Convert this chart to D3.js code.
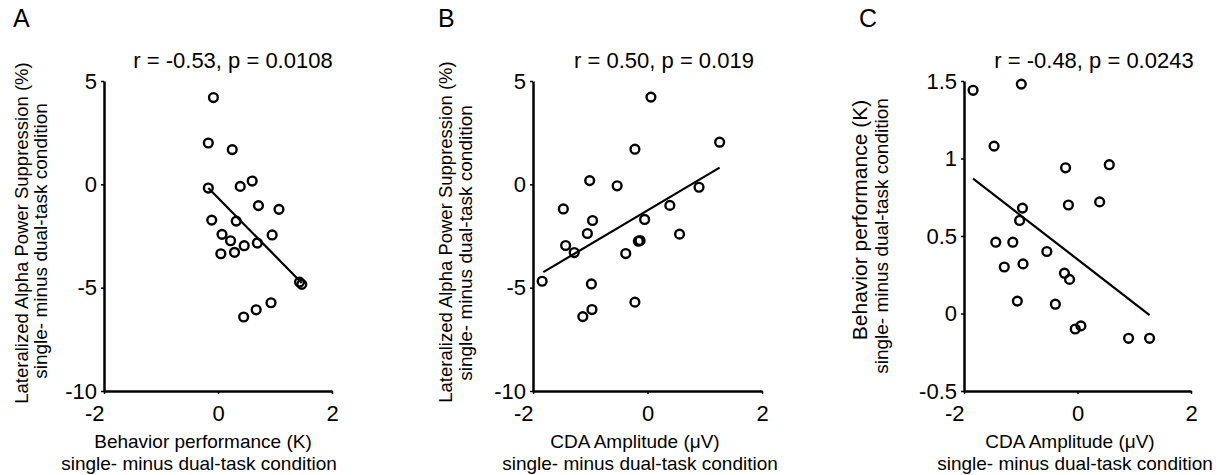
<!DOCTYPE html>
<html>
<head>
<meta charset="utf-8">
<script src="https://cdn.jsdelivr.net/npm/d3@7"></script>
<style>
  html, body { margin: 0; padding: 0; background: #fff; }
  svg text { font-family: "Liberation Sans", Arial, Helvetica, sans-serif; fill: #000; }
</style>
</head>
<body>
<svg id="chart" width="1222" height="475"></svg>
<script>
// ---------- DATA ----------
const panelLetters = ["A", "B", "C"];
const titles = ["r = -0.53, p = 0.0108", "r = 0.50, p = 0.019", "r = -0.48, p = 0.0243"];

const xTicks = [-2, 0, 2];
const yTicksAlpha = [-10, -5, 0, 5];
const yTicksBehavior = [-0.5, 0, 0.5, 1, 1.5];

// Panel A: behavior performance (K) vs lateralized alpha power suppression (%)
const behaviorA = [-0.08, -0.17, 0.25, -0.17, 0.39, 0.60, 0.71, 1.07, -0.11, 0.32, 0.07,
                   0.22, 0.46, 0.69, 0.95, 0.05, 0.29, 1.43, 1.47, 0.93, 0.67, 0.45];
const alphaA    = [4.20, 2.00, 1.68, -0.18, -0.10, 0.16, -1.03, -1.21, -1.73, -1.78, -2.42,
                   -2.73, -2.97, -2.84, -2.45, -3.36, -3.29, -4.73, -4.84, -5.73, -6.07, -6.42];
const fitA = [[-0.17, -0.18], [1.47, -4.77]];

// Panel B: CDA amplitude (µV) vs lateralized alpha power suppression (%)
const cdaB   = [0.06, 1.26, -0.22, -1.01, -0.53, 0.90, -1.47, 0.39, -0.96, -0.05, -1.05,
                0.56, -1.43, -1.28, -0.16, -0.13, -0.38, -1.84, -0.98, -0.22, -0.97, -1.13];
const alphaB = [4.22, 2.04, 1.70, 0.18, -0.07, -0.14, -1.19, -1.02, -1.75, -1.70, -2.38,
                -2.41, -2.96, -3.30, -2.75, -2.72, -3.35, -4.69, -4.82, -5.70, -6.06, -6.40];
const fitB = [[-1.82, -4.25], [1.26, 0.81]];

// Panel C: CDA amplitude (µV) vs behavior performance (K)
const cdaC      = [-1.84, -0.99, -1.47, -0.21, 0.56, -0.97, -0.16, 0.39, -1.02, -1.44, -1.14,
                   -0.54, -1.29, -0.96, -0.23, -0.14, -1.06, -0.39, -0.04, 0.06, 0.90, 1.27];
const behaviorC = [1.44, 1.48, 1.08, 0.94, 0.96, 0.68, 0.70, 0.72, 0.60, 0.46, 0.46,
                   0.40, 0.30, 0.32, 0.26, 0.22, 0.08, 0.06, -0.10, -0.08, -0.16, -0.16];
const fitC = [[-1.84, 0.87], [1.27, -0.01]];

const xLabels = [
  ["Behavior performance (K)", "single- minus dual-task condition"],
  ["CDA Amplitude (\u03BCV)", "single- minus dual-task condition"],
  ["CDA Amplitude (\u03BCV)", "single- minus dual-task condition"]
];
const yLabels = [
  ["Lateralized Alpha Power Suppression (%)", "single- minus dual-task condition"],
  ["Lateralized Alpha Power Suppression (%)", "single- minus dual-task condition"],
  ["Behavior performance (K)", "single- minus dual-task condition"]
];

// ---------- LAYOUT ----------
const panels = [
  { x: behaviorA, y: alphaA, fit: fitA, yDomain: [-10, 5], yTicks: yTicksAlpha,
    left: 104, right: 332, letterX: 13, titleX: 233,
    yl1x: 28, yl2x: 47, yl1c: 233, yl2c: 241, yl1fs: 18.5, xl1c: 203, xl2c: 199 },
  { x: cdaB, y: alphaB, fit: fitB, yDomain: [-10, 5], yTicks: yTicksAlpha,
    left: 533, right: 762, letterX: 438, titleX: 664,
    yl1x: 452, yl2x: 472, yl1c: 232, yl2c: 243, yl1fs: 18.5, xl1c: 635, xl2c: 640 },
  { x: cdaC, y: behaviorC, fit: fitC, yDomain: [-0.5, 1.5], yTicks: yTicksBehavior,
    left: 964, right: 1191, letterX: 859, titleX: 1094,
    yl1x: 867, yl2x: 888, yl1c: 220, yl2c: 236, yl1fs: 21, xl1c: 1070, xl2c: 1075 }
];
const plotTop = 81, plotBottom = 391;

const svg = d3.select("#chart");

panels.forEach((p, i) => {
  const xs = d3.scaleLinear().domain([-2, 2]).range([p.left, p.right]);
  const ys = d3.scaleLinear().domain(p.yDomain).range([plotBottom, plotTop]);
  const g = svg.append("g");

  // panel letter
  g.append("text").attr("x", p.letterX).attr("y", 27)
    .attr("font-size", 25).text(panelLetters[i]);

  // title
  g.append("text").attr("x", p.titleX).attr("y", 68)
    .attr("text-anchor", "middle").attr("font-size", 22).text(titles[i]);

  // y axis
  const yAxis = d3.axisLeft(ys).tickValues(p.yTicks).tickSize(3).tickSizeOuter(0)
    .tickFormat(d => String(d));
  const ya = g.append("g").attr("transform", `translate(${p.left},0)`).call(yAxis);
  ya.select(".domain").attr("stroke", "#000").attr("stroke-width", 2.5);
  ya.selectAll(".tick line").attr("stroke", "#000").attr("stroke-width", 1.5);
  ya.selectAll(".tick text").attr("font-size", 22).attr("x", -7)
    .attr("font-family", "'Liberation Sans', Arial, sans-serif").attr("fill", "#000");

  // x axis
  const xAxis = d3.axisBottom(xs).tickValues(xTicks).tickSize(3).tickSizeOuter(0)
    .tickFormat(d => String(d));
  const xa = g.append("g").attr("transform", `translate(0,${plotBottom})`).call(xAxis);
  xa.select(".domain").attr("stroke", "#000").attr("stroke-width", 2.5);
  xa.selectAll(".tick line").attr("stroke", "#000").attr("stroke-width", 1.5);
  xa.selectAll(".tick text").attr("font-size", 22).attr("y", 14)
    .attr("font-family", "'Liberation Sans', Arial, sans-serif").attr("fill", "#000")
    .attr("text-anchor", (d, k) => k === 0 ? "end" : "middle");

  // regression line
  g.append("line")
    .attr("x1", xs(p.fit[0][0])).attr("y1", ys(p.fit[0][1]))
    .attr("x2", xs(p.fit[1][0])).attr("y2", ys(p.fit[1][1]))
    .attr("stroke", "#000").attr("stroke-width", 2.2);

  // points
  g.selectAll("circle.pt").data(d3.range(p.x.length)).enter().append("circle")
    .attr("class", "pt")
    .attr("cx", k => xs(p.x[k])).attr("cy", k => ys(p.y[k]))
    .attr("r", 4.4).attr("fill", "none").attr("stroke", "#000").attr("stroke-width", 2.4);

  // x label
  g.append("text").attr("x", p.xl1c).attr("y", 448).attr("text-anchor", "middle")
    .attr("font-size", 19).text(xLabels[i][0]);
  g.append("text").attr("x", p.xl2c).attr("y", 470).attr("text-anchor", "middle")
    .attr("font-size", 19).text(xLabels[i][1]);

  // y label (rotated)
  g.append("text").attr("transform", `translate(${p.yl1x},${p.yl1c}) rotate(-90)`)
    .attr("text-anchor", "middle").attr("font-size", p.yl1fs).text(yLabels[i][0]);
  g.append("text").attr("transform", `translate(${p.yl2x},${p.yl2c}) rotate(-90)`)
    .attr("text-anchor", "middle").attr("font-size", 19).text(yLabels[i][1]);
});
</script>
</body>
</html>
